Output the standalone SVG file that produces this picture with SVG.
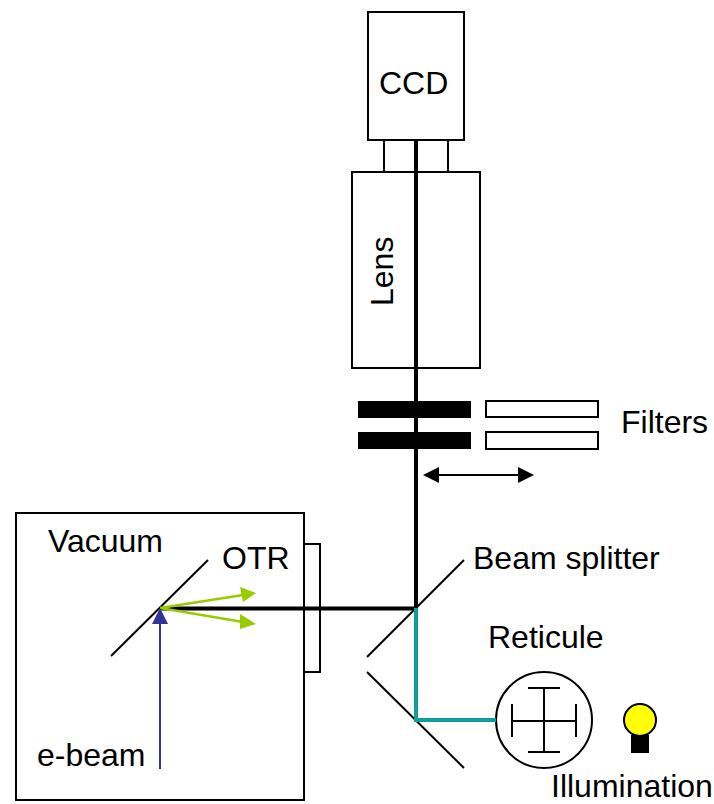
<svg xmlns="http://www.w3.org/2000/svg" width="714" height="804" viewBox="0 0 714 804">
<style>
.box{fill:#fff;stroke:#000;stroke-width:2}
.thin{fill:none;stroke:#000;stroke-width:2}
.beam{fill:none;stroke:#000;stroke-width:4}
.teal{fill:none;stroke:#0d9e9e;stroke-width:4}
.green{fill:none;stroke:#99cc00;stroke-width:2.5}
.lbl{font-family:"Liberation Sans",Arial,sans-serif;font-size:32px;fill:#000}
</style>
<rect width="714" height="804" fill="#fff"/>
<g id="window"><rect class="box" x="304" y="544" width="16" height="128"/></g>
<g id="vacuum"><rect class="box" x="16" y="513" width="288" height="287"/><text class="lbl" x="48" y="552">Vacuum</text></g>
<g id="otr-foil"><line class="thin" x1="111" y1="656" x2="208" y2="560"/><text class="lbl" x="222" y="569">OTR</text></g>
<g id="ebeam"><text class="lbl" x="37" y="766">e-beam</text></g>
<g id="ccd"><rect class="box" x="368" y="12" width="96" height="128"/><text class="lbl" x="379" y="94">CCD</text></g>
<g id="coupler"><rect class="box" x="384" y="140" width="64" height="32"/></g>
<g id="lens"><rect class="box" x="352" y="172" width="128" height="196"/><text class="lbl" transform="translate(393,306) rotate(-90)">Lens</text></g>
<g id="filters-in"><rect x="358" y="401" width="113" height="17" fill="#000"/><rect x="358" y="432" width="113" height="17" fill="#000"/></g>
<g id="filters-out"><rect class="box" x="486" y="401" width="112" height="16"/><rect class="box" x="486" y="432" width="112" height="17"/><text class="lbl" x="621" y="433">Filters</text></g>
<g id="beam-splitter"><line class="thin" x1="464" y1="560" x2="367" y2="657"/><line class="thin" x1="367" y1="672" x2="464" y2="768"/><text class="lbl" x="473" y="569">Beam splitter</text></g>
<g id="reticule"><circle class="box" cx="544" cy="720" r="48"/><path class="thin" d="M512 721H576M544 688V752M512 704V737M576 704V737M528 688H560M528 752H560"/><text class="lbl" x="488" y="648">Reticule</text></g>
<g id="illumination"><circle cx="640" cy="720" r="16" fill="#ff0" stroke="#000" stroke-width="2"/><rect x="631" y="735" width="18" height="18" fill="#000"/><text class="lbl" x="551" y="797">Illumination</text></g>
<g id="connectors">
<path class="beam" d="M416 140V608M160 608.500H416"/>
<path class="teal" d="M416 608V720H496"/>
<line class="green" x1="160" y1="608" x2="243" y2="595"/><polygon points="256,593 240,587 243,602" fill="#99cc00"/>
<line class="green" x1="160" y1="608" x2="243" y2="622"/><polygon points="256,624 240,614 240,629" fill="#99cc00"/>
<line x1="160" y1="769" x2="160" y2="622" stroke="#333399" stroke-width="2"/><polygon points="160,608 152,624 168,624" fill="#333399"/>
<line x1="436" y1="475" x2="520" y2="475" stroke="#000" stroke-width="2"/><polygon points="423,475 439,467 439,483" fill="#000"/><polygon points="534,475 518,467 518,483" fill="#000"/>
</g>
</svg>
